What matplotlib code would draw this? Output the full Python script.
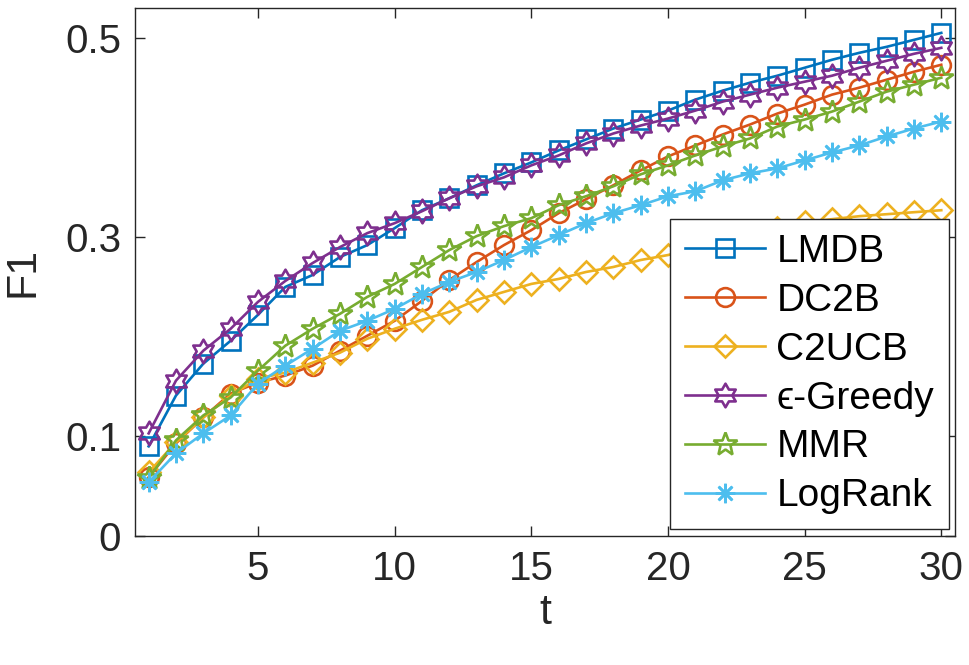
import numpy as np
import matplotlib
matplotlib.use('Agg')
import matplotlib.pyplot as plt
from matplotlib.path import Path

# ── Data ───────────────────────────────────────────────────
t = list(range(1, 31))

lmdb = [0.090, 0.141, 0.173, 0.196, 0.222, 0.250, 0.262, 0.280, 0.292, 0.309,
        0.327, 0.339, 0.352, 0.364, 0.375, 0.387, 0.398, 0.409, 0.418, 0.427,
        0.438, 0.447, 0.455, 0.462, 0.470, 0.478, 0.485, 0.491, 0.498, 0.505]
dc2b = [0.059, 0.093, 0.119, 0.143, 0.154, 0.161, 0.171, 0.186, 0.201, 0.216,
        0.236, 0.257, 0.275, 0.292, 0.307, 0.324, 0.338, 0.352, 0.367, 0.381,
        0.392, 0.403, 0.413, 0.424, 0.433, 0.443, 0.450, 0.458, 0.466, 0.473]
c2ucb = [0.064, 0.094, 0.119, 0.141, 0.158, 0.164, 0.174, 0.184, 0.198, 0.208,
         0.217, 0.225, 0.237, 0.245, 0.253, 0.258, 0.265, 0.270, 0.277, 0.282,
         0.289, 0.296, 0.303, 0.309, 0.315, 0.318, 0.321, 0.323, 0.325, 0.327]
egreedy = [0.103, 0.156, 0.186, 0.208, 0.235, 0.256, 0.274, 0.290, 0.304, 0.314,
           0.326, 0.339, 0.351, 0.360, 0.372, 0.382, 0.394, 0.404, 0.412, 0.419,
           0.427, 0.436, 0.443, 0.450, 0.456, 0.462, 0.470, 0.477, 0.484, 0.490]
mmr = [0.058, 0.096, 0.121, 0.139, 0.166, 0.191, 0.208, 0.223, 0.240, 0.253,
       0.270, 0.287, 0.301, 0.311, 0.319, 0.332, 0.341, 0.351, 0.363, 0.372,
       0.382, 0.391, 0.399, 0.411, 0.418, 0.426, 0.436, 0.446, 0.453, 0.460]
logrank = [0.054, 0.083, 0.103, 0.121, 0.153, 0.171, 0.188, 0.206, 0.216, 0.228,
           0.243, 0.255, 0.265, 0.277, 0.290, 0.302, 0.314, 0.324, 0.332, 0.341,
           0.346, 0.357, 0.364, 0.369, 0.377, 0.385, 0.392, 0.401, 0.409, 0.416]

labels = ['LMDB', 'DC2B', 'C2UCB', '\u03f5-Greedy', 'MMR', 'LogRank']
series = [lmdb, dc2b, c2ucb, egreedy, mmr, logrank]

# MATLAB default colour order
colors = [(0.000, 0.447, 0.741), (0.850, 0.325, 0.098), (0.929, 0.694, 0.125),
          (0.494, 0.184, 0.556), (0.466, 0.674, 0.188), (0.301, 0.745, 0.933)]

# hexagram (star of David outline) like MATLAB's 'h'
ang_out = np.deg2rad(90 + 60 * np.arange(6))
ang_in = ang_out + np.deg2rad(30)
r_in = 1 / np.sqrt(3)
hex_verts = []
for a, b in zip(ang_out, ang_in):
    hex_verts.append((np.cos(a), np.sin(a)))
    hex_verts.append((r_in * np.cos(b), r_in * np.sin(b)))
hex_verts.append(hex_verts[0])
hexagram = Path(hex_verts, closed=True)

markers = ['s', 'o', 'D', hexagram, '*', (8, 2, 0)]
msizes = [12.5, 13.5, 11.5, 17, 18, 14]

plt.rcParams['font.family'] = ['Liberation Sans', 'DejaVu Sans']

fig = plt.figure(figsize=(9.69, 6.65), dpi=100)
ax = fig.add_axes([0.1393, 0.194, 0.8462, 0.794])

for y, lab, c, m, ms in zip(series, labels, colors, markers, msizes):
    ax.plot(t, y, color=c, lw=1.9, marker=m, markersize=ms,
            markerfacecolor='none', markeredgecolor=c, markeredgewidth=1.9,
            label=lab)

ax.set_xlim(0.5, 30.5)
ax.set_ylim(0, 0.53)
ax.set_xticks([5, 10, 15, 20, 25, 30])
ax.set_yticks([0, 0.1, 0.3, 0.5])
ax.set_yticklabels(['0', '0.1', '0.3', '0.5'])

axcol = (0.15, 0.15, 0.15)
ax.tick_params(direction='in', top=True, right=True, length=7, width=1,
               labelsize=29, colors=axcol, pad=10)
for s in ax.spines.values():
    s.set_color(axcol)
    s.set_linewidth(1)

ax.set_xlabel('t', fontsize=31, color=axcol, labelpad=4)
ax.set_ylabel('F1', fontsize=31, color=axcol, labelpad=16)

leg = ax.legend(loc='lower right', bbox_to_anchor=(0.9927, 0.0133),
                fontsize=28, fancybox=False, framealpha=1, edgecolor=axcol,
                handlelength=2.05, handletextpad=0.3, labelspacing=0.33,
                borderpad=0.38, borderaxespad=0)
leg.get_frame().set_linewidth(1)
for txt in leg.get_texts():
    txt.set_color('black')

fig.savefig('out.png', dpi=100)
